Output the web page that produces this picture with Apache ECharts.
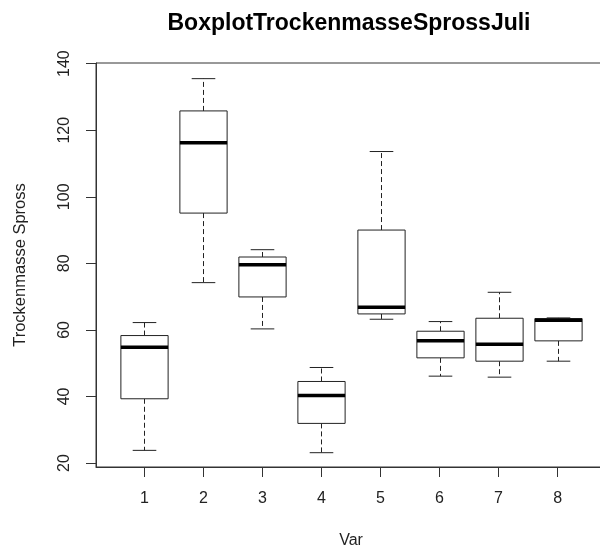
<!DOCTYPE html>
<html>
<head>
<meta charset="utf-8">
<script src="https://cdn.jsdelivr.net/npm/echarts@6/dist/echarts.min.js"></script>
<style>html,body{margin:0;padding:0;background:#fff;}#c{width:600px;height:546px;}</style>
</head>
<body>
<div id="c"></div>
<script>
const categories = [1, 2, 3, 4, 5, 6, 7, 8];
const whiskerLow = [23.8, 74.2, 60.3, 23.1, 63.2, 46.1, 45.8, 50.6];
const quartile1 = [39.3, 95.1, 69.9, 31.9, 64.8, 51.6, 50.6, 56.7];
const medians = [54.8, 116.2, 79.6, 40.3, 66.8, 56.7, 55.7, 62.9];
const quartile3 = [58.3, 125.8, 81.9, 44.5, 90.0, 59.6, 63.5, 63.4];
const whiskerHigh = [62.2, 135.5, 84.1, 48.7, 113.6, 62.5, 71.3, 63.6];
const yTicks = [20, 40, 60, 80, 100, 120, 140];

const source = categories.map((c, i) => [c, whiskerLow[i], quartile1[i], medians[i], quartile3[i], whiskerHigh[i]]);

const chart = echarts.init(document.getElementById('c'), null, {renderer: 'canvas'});
const textColor = '#222';
const lineColor = '#333';
const font = '"Liberation Sans", Arial, sans-serif';

function renderItem(params, api) {
  const x = api.value(0);
  const pLo = api.coord([x, api.value(1)]);
  const pQ1 = api.coord([x, api.value(2)]);
  const pMed = api.coord([x, api.value(3)]);
  const pQ3 = api.coord([x, api.value(4)]);
  const pHi = api.coord([x, api.value(5)]);
  const hw = api.size([0.4, 0])[0];
  const cw = api.size([0.2, 0])[0];
  const xc = Math.round(pMed[0]) + 0.5;
  const st = {stroke: '#222', lineWidth: 1, fill: null};
  const dash = {stroke: '#222', lineWidth: 1, lineDash: [5, 3]};
  return {
    type: 'group',
    children: [
      {type: 'line', shape: {x1: xc, y1: pQ3[1], x2: xc, y2: pHi[1]}, style: dash},
      {type: 'line', shape: {x1: xc, y1: pQ1[1], x2: xc, y2: pLo[1]}, style: dash},
      {type: 'line', shape: {x1: xc - cw, y1: pHi[1], x2: xc + cw, y2: pHi[1]}, style: st},
      {type: 'line', shape: {x1: xc - cw, y1: pLo[1], x2: xc + cw, y2: pLo[1]}, style: st},
      {type: 'rect', shape: {x: xc - hw, y: pQ3[1], width: 2 * hw, height: pQ1[1] - pQ3[1]}, style: {stroke: '#222', lineWidth: 1, fill: '#fff'}},
      {type: 'line', shape: {x1: xc - hw, y1: pMed[1], x2: xc + hw, y2: pMed[1]}, style: {stroke: '#000', lineWidth: 3.5}}
    ]
  };
}

chart.setOption({
  animation: false,
  backgroundColor: '#fff',
  title: {
    text: 'BoxplotTrockenmasseSprossJuli',
    left: 344, top: 7, textAlign: 'center',
    textStyle: {fontFamily: font, fontWeight: 'bold', fontSize: 23, color: '#000'}
  },
  grid: {left: 96, top: 63, right: -6, bottom: 79, outerBoundsMode: 'none', containLabel: false, show: true, borderColor: lineColor, borderWidth: 1, backgroundColor: 'transparent'},
  dataset: {source: source},
  xAxis: {
    type: 'value', min: 0.18, max: 8.82,
    name: 'Var', nameLocation: 'middle', nameGap: 66,
    nameTextStyle: {fontFamily: font, fontSize: 16, color: textColor},
    splitLine: {show: false},
    axisLine: {show: true, lineStyle: {color: lineColor}},
    axisTick: {show: true, length: 10, customValues: categories, lineStyle: {color: lineColor}},
    axisLabel: {customValues: categories, margin: 24, fontFamily: font, fontSize: 16, color: textColor, formatter: v => String(v)}
  },
  yAxis: {
    type: 'value', min: 18.8, max: 140.2,
    name: 'Trockenmasse Spross', nameLocation: 'middle', nameGap: 67,
    nameTextStyle: {fontFamily: font, fontSize: 16.5, color: textColor},
    splitLine: {show: false},
    axisLine: {show: true, lineStyle: {color: lineColor}},
    axisTick: {show: true, length: 10, customValues: yTicks, lineStyle: {color: lineColor}},
    axisLabel: {customValues: yTicks, rotate: 90, margin: 23, fontFamily: font, fontSize: 16, color: textColor, formatter: v => String(v)}
  },
  series: [{
    type: 'custom',
    renderItem: renderItem,
    encode: {x: 0, y: [1, 2, 3, 4, 5]},
    clip: false
  }]
});
</script>
</body>
</html>
